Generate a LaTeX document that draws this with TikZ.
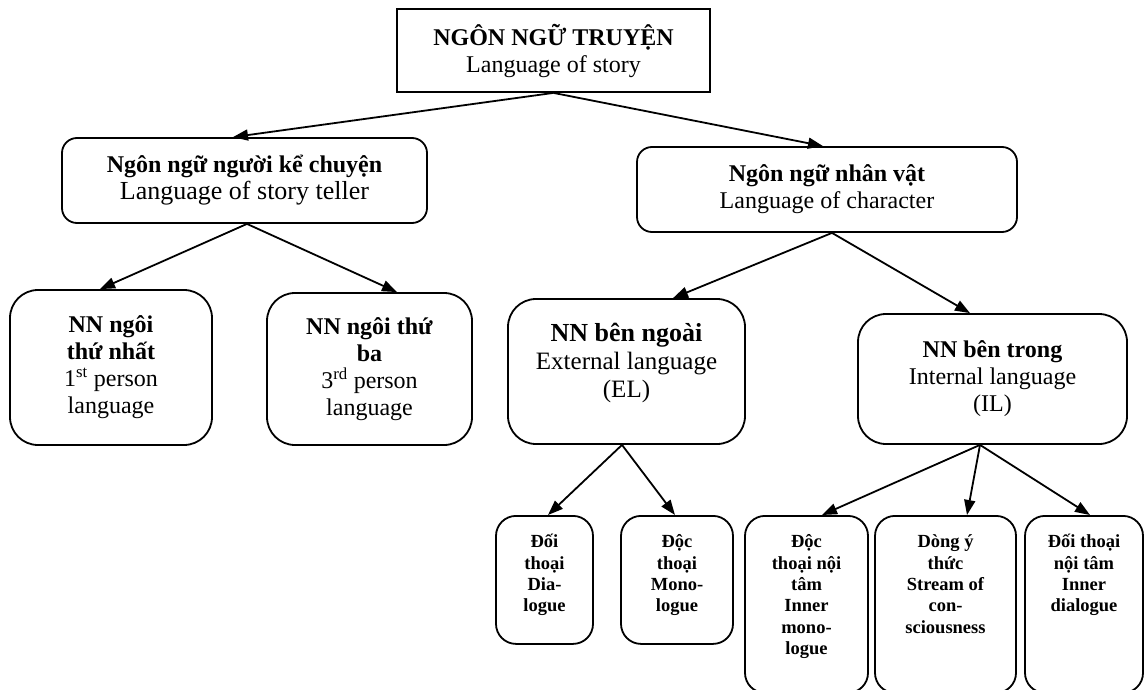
\documentclass[tikz,border=0pt]{standalone}
\usepackage{fontspec}
\setmainfont{Liberation Serif}
\usetikzlibrary{arrows.meta}

\begin{document}
\begin{tikzpicture}[x=1pt, y=-1pt, >={Triangle[length=15pt,width=11pt]}, line width=1.8pt,
      rootbox/.style={draw, inner sep=0pt, align=center, font=\fontsize{24}{27}\selectfont},
      midbox/.style={draw, rounded corners=15pt, inner sep=0pt, align=center, font=\fontsize{24}{27}\selectfont},
      subbox/.style={draw, rounded corners=28pt, inner sep=0pt, align=center, font=\fontsize{24}{27}\selectfont},
      leaf/.style={draw, rounded corners=20pt, inner sep=0pt, anchor=north, font=\fontsize{18.5}{21.3}\selectfont\bfseries}]
      \useasboundingbox (0,0) rectangle (1145,690);
      \clip (0,0) rectangle (1145,690);
      \node[rootbox, minimum width=313pt, minimum height=83pt] (root) at (553.5,50.5) {\textbf{NGÔN NGỮ TRUYỆN}\\Language of story};
      \node[midbox, minimum width=365pt, minimum height=85pt] (teller) at (244.5,180.5) {\textbf{Ngôn ngữ người kể chuyện}\\{\fontsize{26}{27}\selectfont Language of story teller}};
      \node[midbox, minimum width=380pt, minimum height=85pt] (char) at (827,189.5) {\textbf{Ngôn ngữ nhân vật}\\Language of character};
      \node[subbox, minimum width=202pt, minimum height=155pt] (first) at (111,367.5) {\textbf{NN ngôi}\\\textbf{thứ nhất}\\1\textsuperscript{st} person\\language};
      \node[subbox, minimum width=205pt, minimum height=152pt] (third) at (369.5,369) {\textbf{NN ngôi thứ}\\\textbf{ba}\\3\textsuperscript{rd} person\\language};
      \node[subbox, minimum width=237pt, minimum height=145pt, font=\fontsize{25}{28}\selectfont] (ext) at (626.5,371.5) {{\fontsize{26}{28}\selectfont\textbf{NN bên ngoài}}\\External language\\(EL)\rule[-22pt]{0pt}{0pt}};
      \node[subbox, minimum width=269pt, minimum height=130pt] (int) at (992.5,379) {\textbf{NN bên trong}\\Internal language\\(IL)};
      \node[leaf] (dia) at (544.5,515) {\parbox[c][128pt][t]{97pt}{\centering\rule{0pt}{32pt}Đối\\thoại\\Dia-\\logue}};
      \node[leaf] (mono) at (677,515) {\parbox[c][128pt][t]{112pt}{\centering\rule{0pt}{32pt}Độc\\thoại\\Mono-\\logue}};
      \node[leaf] (imono) at (806.5,515) {\parbox[c][177pt][t]{123pt}{\centering\rule{0pt}{32pt}Độc\\thoại nội\\tâm\\Inner\\mono-\\logue}};
      \node[leaf] (stream) at (945.5,515) {\parbox[c][177pt][t]{141pt}{\centering\rule{0pt}{32pt}Dòng ý\\thức\\Stream of\\con-\\sciousness}};
      \node[leaf] (idia) at (1084,515) {\parbox[c][177pt][t]{118pt}{\centering\rule{0pt}{32pt}Đối thoại\\nội tâm\\Inner\\dialogue}};
      \draw[->] (root.south) -- ([xshift=-11.5pt]teller.north);
      \draw[->] (root.south) -- ([xshift=-4pt]char.north);
      \draw[->] ([xshift=2.5pt]teller.south) -- ([xshift=-11pt]first.north);
      \draw[->] ([xshift=2.5pt]teller.south) -- ([xshift=27.5pt]third.north);
      \draw[->] ([xshift=5pt]char.south) -- ([xshift=46.5pt]ext.north);
      \draw[->] ([xshift=5pt]char.south) -- ([xshift=-22.5pt]int.north);
      \draw[->] ([xshift=-4.5pt]ext.south) -- ([xshift=3.5pt]dia.north);
      \draw[->] ([xshift=-4.5pt]ext.south) -- ([xshift=-2pt]mono.north);
      \draw[->] ([xshift=-12.5pt]int.south) -- ([xshift=15.5pt]imono.north);
      \draw[->] ([xshift=-12.5pt]int.south) -- ([xshift=21.5pt]stream.north);
      \draw[->] ([xshift=-12.5pt]int.south) -- ([xshift=6pt]idia.north);
    \end{tikzpicture}
\end{document}
